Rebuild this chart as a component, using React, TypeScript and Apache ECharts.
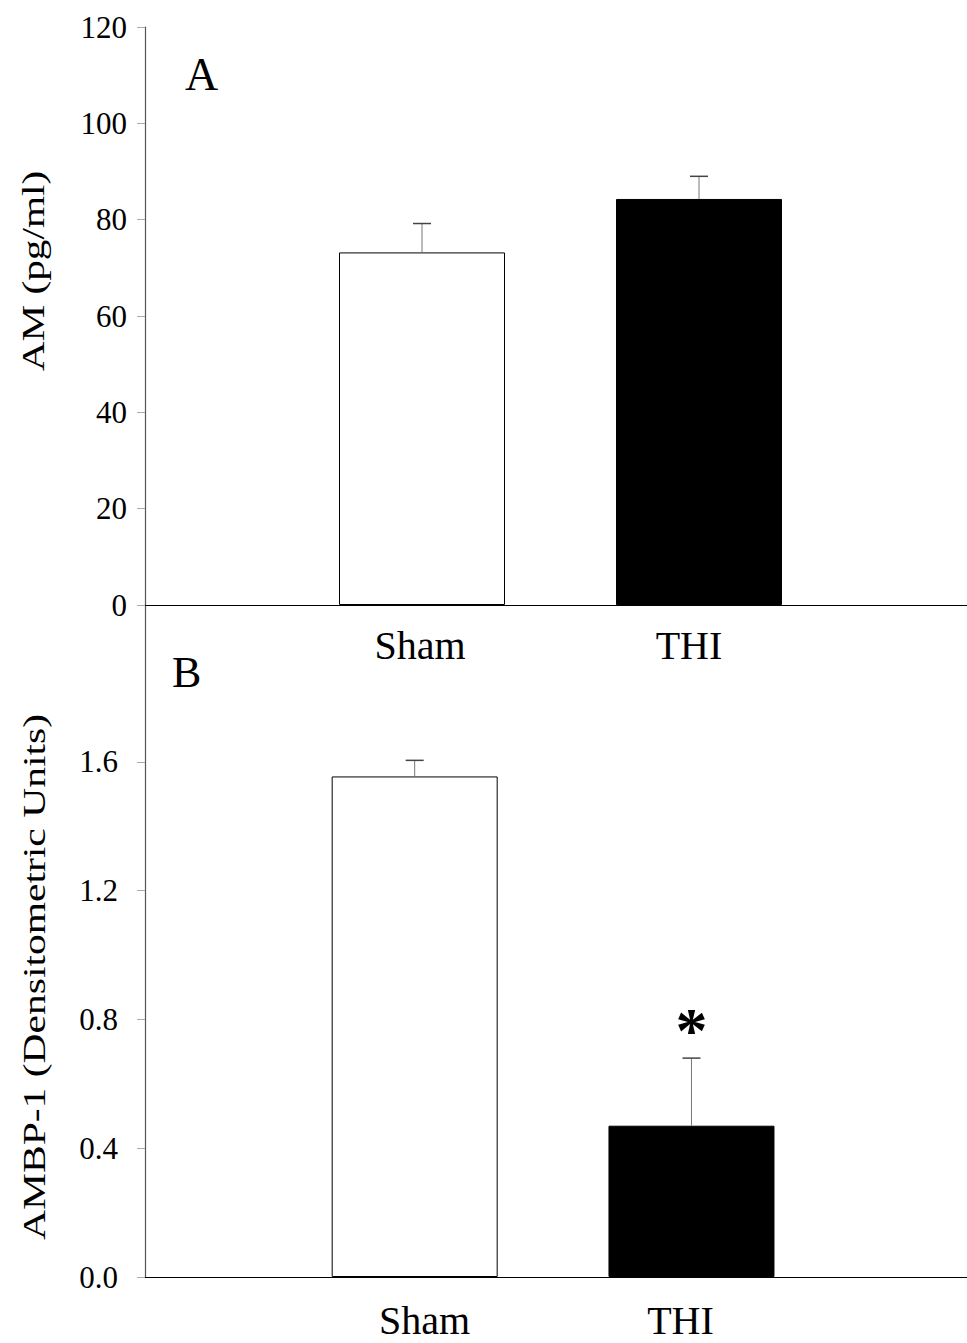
import React, { useEffect, useRef } from "react";
import * as echarts from "echarts";

const categories = ["Sham", "THI"];
const amMeans = [73.2, 84.3];
const amSem = [6.0, 4.7];
const ambpMeans = [1.555, 0.47];
const ambpSem = [0.05, 0.21];
const ambpSignificance = ["", "*"];
const ambpTicks = [0, 0.4, 0.8, 1.2, 1.6];
const barColors = ["#ffffff", "#000000"];
const panelLetters = ["A", "B"];
const yTitles = ["AM (pg/ml)", "AMBP-1 (Densitometric Units)"];

const FONT = "'Liberation Serif', 'Times New Roman', serif";

function barData(means: number[]) {
  return categories.map((c, i) => ({
    value: [i + 1, means[i]],
    itemStyle: { color: barColors[i], borderColor: "#000", borderWidth: 1 },
  }));
}

function errData(means: number[], sem: number[]) {
  return categories.map((c, i) => [i + 1, means[i], means[i] + sem[i]]);
}

function makeErrRender(sig: string[] | null) {
  return (params: any, api: any) => {
    const x = api.value(0);
    const base = api.coord([x, api.value(1)]);
    const top = api.coord([x, api.value(2)]);
    const children: any[] = [
      {
        type: "line",
        shape: { x1: top[0], y1: base[1], x2: top[0], y2: top[1] },
        style: { stroke: "#777", lineWidth: 1 },
      },
      {
        type: "line",
        shape: { x1: top[0] - 9, y1: top[1], x2: top[0] + 9, y2: top[1] },
        style: { stroke: "#444", lineWidth: 1.5 },
      },
    ];
    const s = sig ? sig[params.dataIndex] : "";
    if (s) {
      children.push({
        type: "text",
        x: top[0],
        y: top[1] - 28,
        style: {
          text: s,
          font: `bold 64px ${FONT}`,
          fill: "#000",
          align: "center",
          verticalAlign: "middle",
        },
      });
    }
    return { type: "group", children };
  };
}

export default function App() {
  const ref = useRef<HTMLDivElement>(null);
  useEffect(() => {
    if (!ref.current) return;
    const chart = echarts.init(ref.current, null, { renderer: "svg" });
    const yLabelStyle = { fontFamily: FONT, fontSize: 31, color: "#000" };
    const catLabel = (rich: Record<string, any>) => ({
      customValues: [1, 2],
      formatter: (v: number) => {
        const i = Math.round(v) - 1;
        const name = categories[i] ?? "";
        return name ? `{c${i}|${name}}` : "";
      },
      rich,
    });
    const labelText = { fontFamily: FONT, fontSize: 40, color: "#000" };
    chart.setOption({
      animation: false,
      backgroundColor: "#fff",
      grid: [
        { left: 145, right: 0, top: 27, height: 578 },
        { left: 145, right: 0, top: 605, height: 672 },
      ],
      xAxis: [
        {
          gridIndex: 0,
          type: "value",
          min: 0,
          max: 2.9675,
          axisLine: { show: true, lineStyle: { color: "#000", width: 1 } },
          axisTick: { show: false },
          splitLine: { show: false },
          axisLabel: {
            ...catLabel({
              c0: { ...labelText, padding: [0, 4, 0, 0] },
              c1: { ...labelText, padding: [0, 20, 0, 0] },
            }),
            margin: 20,
          },
        },
        {
          gridIndex: 1,
          type: "value",
          min: 0.0257,
          max: 2.9954,
          axisLine: { show: true, onZero: false, lineStyle: { color: "#000", width: 1 } },
          axisTick: { show: false },
          splitLine: { show: false },
          axisLabel: {
            ...catLabel({
              c0: { ...labelText, padding: [0, 0, 0, 20] },
              c1: { ...labelText, padding: [0, 22, 0, 0] },
            }),
            margin: 23,
          },
        },
      ],
      yAxis: [
        {
          gridIndex: 0,
          type: "value",
          min: 0,
          max: 120,
          interval: 20,
          axisLine: { show: true, onZero: false, lineStyle: { color: "#555", width: 1.2 } },
          axisTick: { show: true, length: 8, lineStyle: { color: "#aaa" } },
          splitLine: { show: false },
          axisLabel: { ...yLabelStyle, margin: 18 },
        },
        {
          gridIndex: 1,
          type: "value",
          min: 0,
          max: 2.0876,
          axisLine: { show: true, onZero: false, lineStyle: { color: "#555", width: 1.2 } },
          axisTick: {
            show: true,
            length: 8,
            customValues: ambpTicks,
            lineStyle: { color: "#aaa" },
          },
          splitLine: { show: false },
          axisLabel: {
            ...yLabelStyle,
            margin: 27,
            customValues: ambpTicks,
            formatter: (v: number) => v.toFixed(1),
          },
        },
      ],
      series: [
        {
          type: "bar",
          xAxisIndex: 0,
          yAxisIndex: 0,
          barWidth: 166,
          data: barData(amMeans),
        },
        {
          type: "custom",
          xAxisIndex: 0,
          yAxisIndex: 0,
          encode: { x: 0, y: [1, 2] },
          renderItem: makeErrRender(null),
          data: errData(amMeans, amSem),
          z: 3,
        },
        {
          type: "bar",
          xAxisIndex: 1,
          yAxisIndex: 1,
          barWidth: 166,
          data: barData(ambpMeans),
        },
        {
          type: "custom",
          xAxisIndex: 1,
          yAxisIndex: 1,
          encode: { x: 0, y: [1, 2] },
          renderItem: makeErrRender(ambpSignificance),
          data: errData(ambpMeans, ambpSem),
          z: 3,
        },
      ],
      graphic: [
        {
          type: "text",
          x: 185,
          y: 74,
          style: {
            text: panelLetters[0],
            font: `46px ${FONT}`,
            fill: "#000",
            align: "left",
            verticalAlign: "middle",
          },
        },
        {
          type: "text",
          x: 172,
          y: 672,
          style: {
            text: panelLetters[1],
            font: `44px ${FONT}`,
            fill: "#000",
            align: "left",
            verticalAlign: "middle",
          },
        },
        {
          type: "text",
          x: 34,
          y: 271,
          rotation: Math.PI / 2,
          scaleX: 1.33,
          style: {
            text: yTitles[0],
            font: `31px ${FONT}`,
            fill: "#000",
            align: "center",
            verticalAlign: "middle",
          },
        },
        {
          type: "text",
          x: 34,
          y: 977,
          rotation: Math.PI / 2,
          scaleX: 1.34,
          style: {
            text: yTitles[1],
            font: `31px ${FONT}`,
            fill: "#000",
            align: "center",
            verticalAlign: "middle",
          },
        },
      ],
    });
    return () => chart.dispose();
  }, []);
  return (
    <div
      ref={ref}
      style={{ position: "absolute", left: 0, top: 0, width: 967, height: 1343 }}
    />
  );
}
